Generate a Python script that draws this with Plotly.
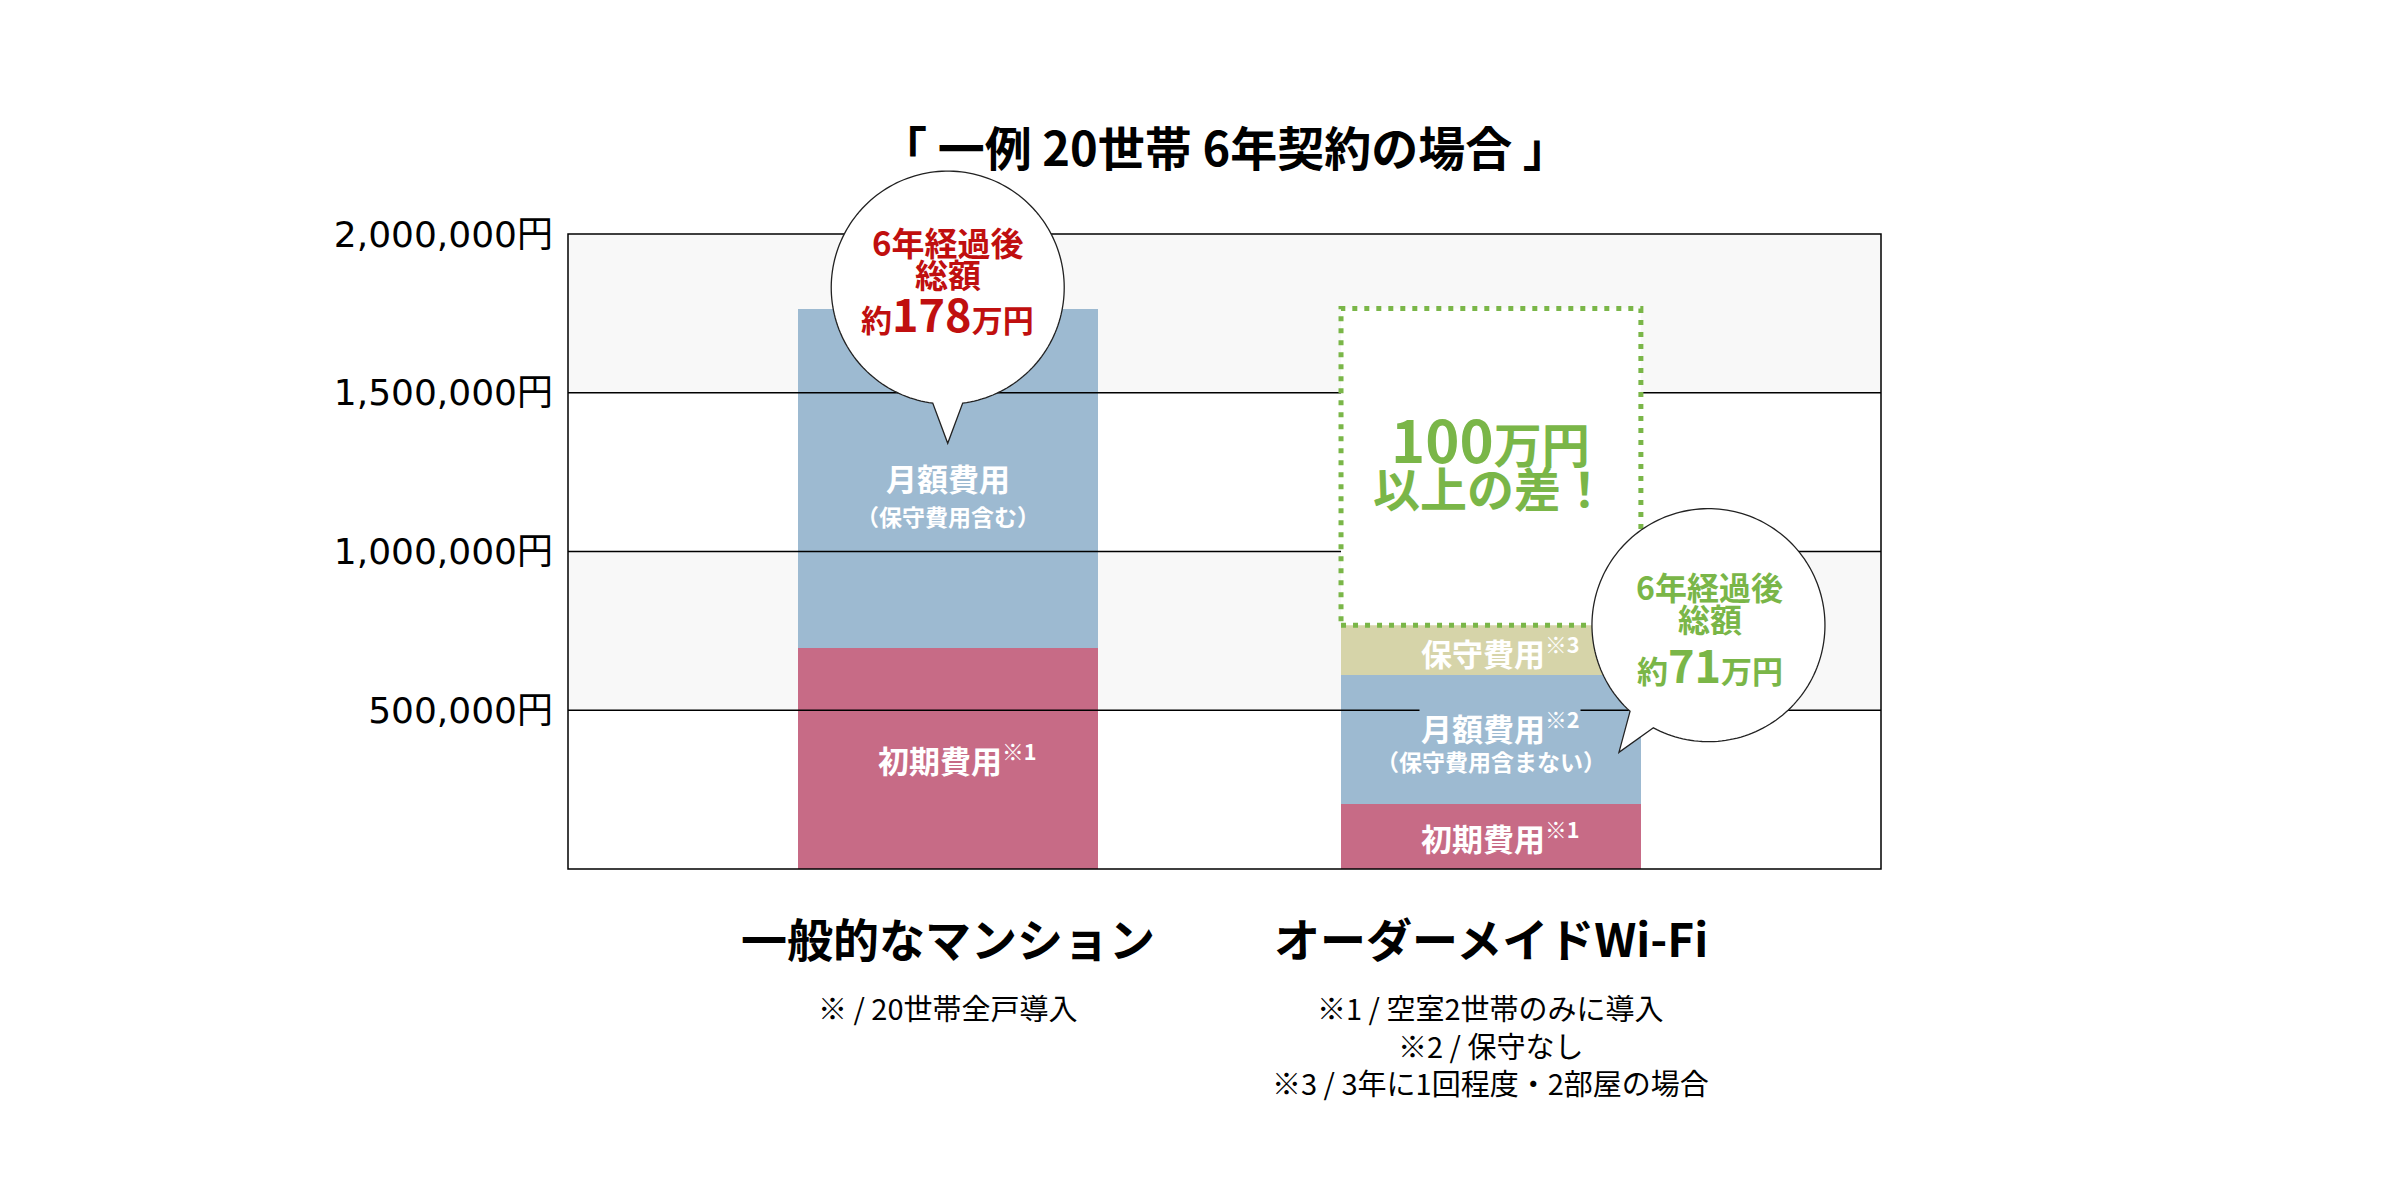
import numpy as np
import plotly.graph_objects as go

# ---------------- data ----------------
categories = ["一般的なマンション", "オーダーメイドWi-Fi"]
initial_cost = [695000, 205000]        # 初期費用
monthly_cost = [1070000, 405000]       # 月額費用
maintenance_cost = [0, 158000]         # 保守費用
total_text_value = ["178", "71"]       # 約○万円
y_tick_values = [500000, 1000000, 1500000, 2000000]
y_tick_labels = ["500,000円", "1,000,000円", "1,500,000円", "2,000,000円"]
title_text = "「 一例 20世帯 6年契約の場合 」"
notes_left = ["※ / 20世帯全戸導入"]
notes_right = ["※1 / 空室2世帯のみに導入", "※2 / 保守なし", "※3 / 3年に1回程度・2部屋の場合"]
diff_text = ["100", "万円", "以上の差！"]

# ---------------- style ----------------
RED = "#C76B86"
BLUE = "#9DBAD1"
TAN = "#D6D4A9"
BAND = "#F8F8F8"
GREEN = "#7AB648"
DARKRED = "#C00F0F"
JP = "Noto Sans CJK JP"
BW = 0.552
X_RANGE = [-0.699, 1.718]
Y_RANGE = [0, 2000000]
SUP_SHIFT = 9

xs = list(range(len(categories)))
seg1_top = [a + b for a, b in zip(initial_cost, monthly_cost)]
totals = [a + b + c for a, b, c in zip(initial_cost, monthly_cost, maintenance_cost)]


def xp(x):
    return (x - X_RANGE[0]) / (X_RANGE[1] - X_RANGE[0])


def yp(y):
    return (y - Y_RANGE[0]) / (Y_RANGE[1] - Y_RANGE[0])


fig = go.Figure()
fig.add_bar(x=xs, y=initial_cost, marker=dict(color=RED, line=dict(width=0)), width=BW, hoverinfo="skip")
fig.add_bar(x=xs, y=monthly_cost, marker=dict(color=BLUE, line=dict(width=0)), width=BW, hoverinfo="skip")
fig.add_bar(x=xs, y=maintenance_cost, marker=dict(color=TAN, line=dict(width=0)), width=BW, hoverinfo="skip")

shapes = []
# alternating bands
edges = [0] + y_tick_values
for i in range(len(edges) - 1):
    if i % 2 == 1:
        shapes.append(dict(type="rect", xref="paper", yref="y", x0=0, x1=1, y0=edges[i], y1=edges[i + 1],
                           fillcolor=BAND, line=dict(width=0), layer="below"))
# gridlines above bars
for v in y_tick_values[:-1]:
    shapes.append(dict(type="line", xref="paper", yref="y", x0=0, x1=1, y0=v, y1=v,
                       line=dict(color="#000", width=1.3), layer="above"))
# border
shapes.append(dict(type="rect", xref="paper", yref="paper", x0=0, x1=1, y0=0, y1=1,
                   line=dict(color="#000", width=1.5), fillcolor="rgba(0,0,0,0)", layer="above"))
# dotted difference box
shapes.append(dict(type="rect", xref="x", yref="y", x0=xs[1] - BW / 2, x1=xs[1] + BW / 2,
                   y0=totals[1], y1=totals[0], fillcolor="white",
                   line=dict(color=GREEN, width=5, dash="5px,7px"), layer="above"))


def bubble_path(cx, cy, r, a0, a1, tip, n=180):
    ang = np.radians(np.linspace(a0, a1, n))
    pts = [(cx + r * np.cos(a), cy + r * np.sin(a)) for a in ang]
    pts.append(tip)
    return "M " + " L ".join(f"{x:.2f},{y:.2f}" for x, y in pts) + " Z"


R = 116.5
shapes.append(dict(type="path", xref="paper", yref="paper", xsizemode="pixel", ysizemode="pixel",
                   xanchor=xp(xs[0]), yanchor=yp(totals[0]),
                   path=bubble_path(0, 21, R, -82.6, 262.6, (0, -134.7)),
                   fillcolor="white", line=dict(color="#222", width=1.3), layer="above"))
shapes.append(dict(type="path", xref="paper", yref="paper", xsizemode="pixel", ysizemode="pixel",
                   xanchor=xp(xs[1]), yanchor=yp(totals[1]),
                   path=bubble_path(217.5, 0, R, -118.2, 227.7, (128, -127.2)),
                   fillcolor="white", line=dict(color="#222", width=1.3), layer="above"))

ann = []


def A(text, x, y, size, color, xshift=0, yshift=0, xref="x", yref="y", bg=None):
    d = dict(text=text, x=x, y=y, xref=xref, yref=yref, xshift=xshift, yshift=yshift,
             showarrow=False, xanchor="center", yanchor="middle",
             font=dict(family=JP, size=size, color=color))
    if bg:
        d["bgcolor"] = bg
    ann.append(d)


# title
A(f"<b>{title_text}</b>", 0.5, 1.14, 47, "#000", xref="paper", yref="paper")

# segment labels bar 1
mid = (initial_cost[0] + seg1_top[0]) / 2
A("<b>月額費用</b>", xs[0], mid, 31, "white", yshift=1)
A("<b>（保守費用含む）</b>", xs[0], mid, 23, "white", yshift=-38)
A("<b>初期費用<sup>※1</sup></b>", xs[0], initial_cost[0] / 2, 31, "white", xshift=SUP_SHIFT)

# segment labels bar 2
A("<b>保守費用<sup>※3</sup></b>", xs[1], (seg1_top[1] + totals[1]) / 2, 31, "white", xshift=SUP_SHIFT, yshift=-1)
A("<b>月額費用<sup>※2</sup></b>", xs[1], (initial_cost[1] + seg1_top[1]) / 2, 31, "white",
  xshift=SUP_SHIFT, yshift=13, bg=BLUE)
A("<b>（保守費用含まない）</b>", xs[1], (initial_cost[1] + seg1_top[1]) / 2, 23, "white", yshift=-21)
A("<b>初期費用<sup>※1</sup></b>", xs[1], initial_cost[1] / 2, 31, "white", xshift=SUP_SHIFT)

# difference box text
box_mid = (totals[0] + totals[1]) / 2
A(f"<b><span style='font-size:58px'>{diff_text[0]}</span>{diff_text[1]}</b>", xs[1], box_mid, 48, GREEN, yshift=29)
A(f"<b>{diff_text[2]}</b>", xs[1], box_mid, 47, GREEN, yshift=-20)

# bubble texts
A("<b>6年経過後</b>", xs[0], totals[0], 33, DARKRED, yshift=67)
A("<b>総額</b>", xs[0], totals[0], 33, DARKRED, yshift=35)
A(f"<b>約<span style='font-size:45px'>{total_text_value[0]}</span>万円</b>", xs[0], totals[0], 31, DARKRED, yshift=-4)
A("<b>6年経過後</b>", xs[1], totals[1], 32, GREEN, xshift=219, yshift=39)
A("<b>総額</b>", xs[1], totals[1], 32, GREEN, xshift=219, yshift=7)
A(f"<b>約<span style='font-size:45px'>{total_text_value[1]}</span>万円</b>", xs[1], totals[1], 31, GREEN, xshift=219, yshift=-38)

# category labels and notes
for i, c in enumerate(categories):
    A(f"<b>{c}</b>", xs[i], 0, 46, "#000", yshift=-68)
for j, n in enumerate(notes_left):
    A(n, xs[0], 0, 29, "#000", yshift=-138 - 37.5 * j)
for j, n in enumerate(notes_right):
    A(n, xs[1], 0, 29, "#000", yshift=-138 - 37.5 * j)

fig.update_layout(
    width=2400, height=1200,
    margin=dict(l=560, r=527, t=226, b=339, pad=0),
    paper_bgcolor="white", plot_bgcolor="white",
    barmode="stack", showlegend=False, bargap=0,
    shapes=shapes, annotations=ann,
    xaxis=dict(range=X_RANGE, showticklabels=False, showgrid=False, zeroline=False,
               showline=False, ticks="", fixedrange=True),
    yaxis=dict(range=Y_RANGE, tickvals=y_tick_values, ticktext=y_tick_labels,
               showgrid=False, zeroline=False, showline=False, ticks="", ticklabelstandoff=14,
               tickfont=dict(family="DejaVu Sans, Noto Sans CJK JP", size=36, color="#000"),
               fixedrange=True),
)

fig.write_html("out.html")
